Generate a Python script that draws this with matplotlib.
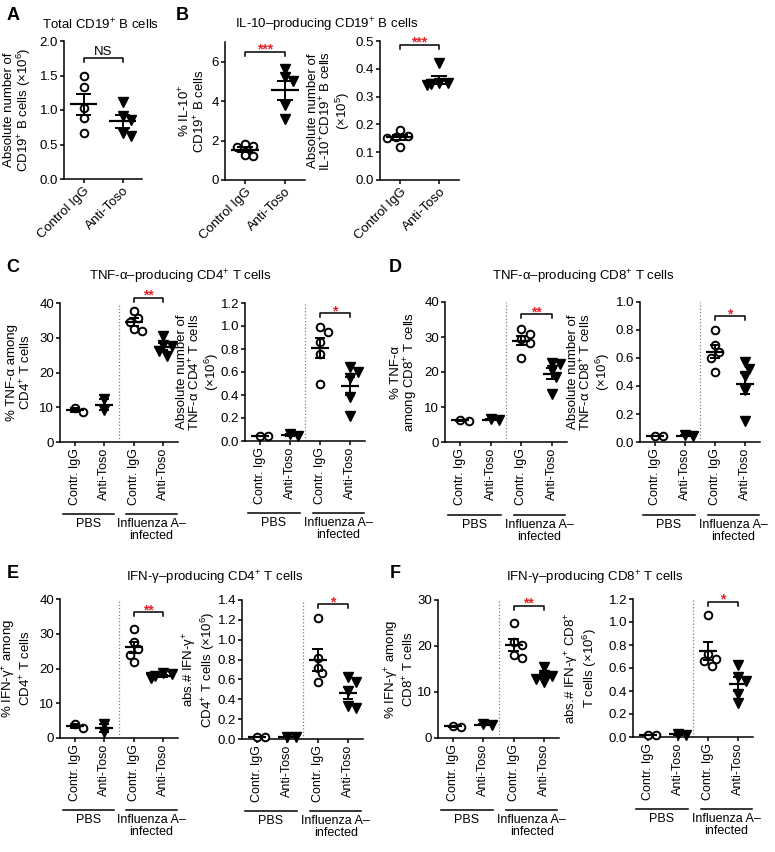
import numpy as np
import matplotlib
matplotlib.use("Agg")
import matplotlib.pyplot as plt
import matplotlib.transforms as mtransforms

plt.rcParams['font.family'] = ['Liberation Sans', 'DejaVu Sans']
plt.rcParams['mathtext.fontset'] = 'custom'
plt.rcParams['mathtext.rm'] = 'Liberation Sans'
plt.rcParams['mathtext.it'] = 'Liberation Sans:italic'
plt.rcParams['mathtext.bf'] = 'Liberation Sans:bold'
plt.rcParams['font.size'] = 9
plt.rcParams['axes.linewidth'] = 1.1

# ---- data ----
groups_ab = ["Control IgG", "Anti-Toso"]
groups_cf = ["Contr. IgG", "Anti-Toso", "Contr. IgG", "Anti-Toso"]
conditions = ["PBS", "Influenza A–\ninfected"]

a_ctrl = [1.49, 1.33, 1.03, 0.88, 0.67]
a_toso = [1.12, 0.92, 0.85, 0.66, 0.62]

b1_ctrl = [1.85, 1.75, 1.65, 1.25, 1.20]
b1_toso = [5.65, 5.20, 5.00, 3.80, 3.10]
b2_ctrl = [0.180, 0.160, 0.155, 0.150, 0.120]
b2_toso = [0.420, 0.350, 0.350, 0.345, 0.340]

# order: PBS ctrl, PBS anti-Toso, flu ctrl, flu anti-Toso
c1_vals = [[9.9, 8.5], [12.3, 9.2], [37.8, 35.8, 34.5, 32.5, 32.0], [30.5, 28.0, 27.5, 26.2, 24.7]]
c2_vals = [[0.04, 0.04], [0.06, 0.04], [0.99, 0.95, 0.86, 0.76, 0.50], [0.64, 0.60, 0.55, 0.38, 0.22]]
d1_vals = [[6.3, 6.0], [6.6, 6.2], [32.3, 31.0, 29.5, 28.2, 24.0], [22.6, 22.2, 20.5, 18.5, 13.8]]
d2_vals = [[0.04, 0.04], [0.05, 0.04], [0.80, 0.69, 0.64, 0.60, 0.50], [0.57, 0.52, 0.47, 0.37, 0.15]]
e1_vals = [[4.0, 2.9], [4.1, 1.6], [31.5, 27.5, 25.5, 24.0, 21.8], [18.7, 18.3, 17.9, 17.5, 17.3]]
e2_vals = [[0.02, 0.02], [0.02, 0.02], [1.22, 0.82, 0.72, 0.66, 0.57], [0.62, 0.57, 0.48, 0.33, 0.31]]
f1_vals = [[2.6, 2.5], [3.0, 2.8], [25.0, 20.8, 20.2, 18.0, 17.3], [15.5, 13.8, 13.5, 12.8, 12.1]]
f2_vals = [[0.02, 0.02], [0.03, 0.02], [1.06, 0.72, 0.68, 0.66, 0.62], [0.63, 0.52, 0.49, 0.37, 0.30]]

W, H = 775, 852
fig = plt.figure(figsize=(W / 100, H / 100), dpi=100)
RED = '#e3262b'


def px_axes(x0, y0, x1, y1):
    return fig.add_axes([x0 / W, 1 - y1 / H, (x1 - x0) / W, (y1 - y0) / H])


def swarm(ax, x, ys, diam=7.5):
    # simple beeswarm offsets in pixel space
    bb = ax.get_position()
    xl, yl = ax.get_xlim(), ax.get_ylim()
    sx = bb.width * W / (xl[1] - xl[0])
    sy = bb.height * H / (yl[1] - yl[0])
    placed = []
    xs = []
    for y in ys:
        py = y * sy
        for k in [0, 1, -1, 2, -2, 3, -3]:
            px = k * diam * 0.55
            if all((px - qx) ** 2 + (py - qy) ** 2 >= (diam * 0.95) ** 2 for qx, qy in placed):
                break
        placed.append((px, py))
        xs.append(x + px / sx)
    return xs


def scatter_group(ax, x, ys, marker, mean_w, cap_w):
    ys = np.asarray(ys, float)
    xs = swarm(ax, x, ys)
    if marker == 'o':
        ax.plot(xs, ys, 'o', ms=5.5, mfc='white', mec='k', mew=1.4, ls='none', zorder=3, clip_on=False)
    else:
        ax.plot(xs, ys, 'v', ms=6.5, mfc='k', mec='k', ls='none', zorder=3, clip_on=False)
    m = ys.mean()
    s = ys.std(ddof=1) / np.sqrt(len(ys))
    ax.hlines(m, x - mean_w / 2, x + mean_w / 2, color='k', lw=1.6, zorder=4)
    ax.vlines(x, m - s, m + s, color='k', lw=1.4, zorder=4)
    ax.hlines([m - s, m + s], x - cap_w / 2, x + cap_w / 2, color='k', lw=1.4, zorder=4)


def bracket(ax, x0, x1, y, h, text, color):
    ax.plot([x0, x0, x1, x1], [y - h, y, y, y - h], color='k', lw=1.1, clip_on=False)
    if color == 'k':
        ax.annotate(text, xy=((x0 + x1) / 2, y), xytext=(0, 2.5), textcoords='offset points',
                    ha='center', va='baseline', fontsize=9.5, annotation_clip=False)
    else:
        ax.annotate(text, xy=((x0 + x1) / 2, y), xytext=(0, -1.5), textcoords='offset points',
                    ha='center', va='baseline', color=color, fontsize=10, fontweight='bold',
                    annotation_clip=False)


def style(ax, ylim, yticks, fmt):
    ax.spines['top'].set_visible(False)
    ax.spines['right'].set_visible(False)
    ax.set_ylim(*ylim)
    ax.set_yticks(yticks)
    ax.set_yticklabels([fmt.format(t) for t in yticks])
    ax.tick_params(direction='out', length=3, width=1.1, pad=1.2, labelsize=9.5)


def set_ylabel(ax, text, gap_px):
    ax.set_ylabel(text, fontsize=9.5, linespacing=1.0)
    w_px = ax.get_position().width * W
    ax.yaxis.set_label_coords(-gap_px / w_px, 0.5)


def two_group(ax, ctrl, toso, ylim, yticks, fmt, ylabel, gap, br_y, br_h, br_text, br_color):
    ax.set_xlim(-0.5, 1.5)
    style(ax, ylim, yticks, fmt)
    ax.set_xticks([0, 1])
    ax.set_xticklabels(groups_ab, rotation=45, ha='right', rotation_mode='anchor', fontsize=9.5)
    scatter_group(ax, 0, ctrl, 'o', 0.68, 0.4)
    scatter_group(ax, 1, toso, 'v', 0.68, 0.4)
    bracket(ax, 0, 1, br_y, br_h, br_text, br_color)
    set_ylabel(ax, ylabel, gap)


def four_group(ax, vals, ylim, yticks, fmt, ylabel, gap, br_y, br_h, br_text, line_y=-0.52):
    ax.set_xlim(-0.5, 3.5)
    style(ax, ylim, yticks, fmt)
    ax.set_xticks([0, 1, 2, 3])
    ax.set_xticklabels(groups_cf, rotation=90, fontsize=9)
    ax.axvline(1.5, color='#808080', ls=':', lw=0.9)
    for i, v in enumerate(vals):
        scatter_group(ax, i, v, 'o' if i % 2 == 0 else 'v', 0.6, 0.35)
    bracket(ax, 2, 3, br_y, br_h, br_text, RED)
    set_ylabel(ax, ylabel, gap)
    trans = mtransforms.blended_transform_factory(ax.transData, ax.transAxes)
    for (x0, x1), lab in zip([(-0.4, 1.32), (1.75, 3.45)], conditions):
        ax.plot([x0, x1], [line_y, line_y], transform=trans, color='k', lw=1.1, clip_on=False)
        ax.text((x0 + x1) / 2, line_y - 0.03, lab, transform=trans, ha='center', va='top',
                multialignment='center', fontsize=9, linespacing=1.0)


# ---- panel A ----
axA = px_axes(64, 41, 142, 179)
two_group(axA, a_ctrl, a_toso, (0, 2.0), [0, 0.5, 1.0, 1.5, 2.0], '{:.1f}',
          "Absolute number of\nCD19$^{+}$ B cells (×10$^{6}$)", 31, 1.75, 0.06, "NS", 'k')

# ---- panel B ----
axB1 = px_axes(225, 42, 305, 180)
two_group(axB1, b1_ctrl, b1_toso, (0, 7), [0, 2, 4, 6], '{:.0f}',
          "% IL-10$^{+}$\nCD19$^{+}$ B cells", 18, 6.5, 0.2, "***", RED)
axB2 = px_axes(380, 41, 459, 180)
two_group(axB2, b2_ctrl, b2_toso, (0, 0.5), [0, 0.1, 0.2, 0.3, 0.4, 0.5], '{:.1f}',
          "Absolute number of\nIL-10$^{+}$CD19$^{+}$ B cells\n(×10$^{5}$)", 28, 0.487, 0.015, "***", RED)

# ---- panel C ----
axC1 = px_axes(60, 303, 178, 442)
four_group(axC1, c1_vals, (0, 40), [0, 10, 20, 30, 40], '{:.0f}',
           "% TNF-α among\nCD4$^{+}$ T cells", 27, 41.5, 1.2, "**")
axC2 = px_axes(245, 303, 365, 441)
four_group(axC2, c2_vals, (0, 1.2), [0, 0.2, 0.4, 0.6, 0.8, 1.0, 1.2], '{:.1f}',
           "Absolute number of\nTNF-α CD4$^{+}$ T cells\n(×10$^{6}$)", 24, 1.11, 0.035, "*")

# ---- panel D ----
axD1 = px_axes(445, 302, 567, 442)
four_group(axD1, d1_vals, (0, 40), [0, 10, 20, 30, 40], '{:.0f}',
           "% TNF-α\namong CD8$^{+}$ T cells", 25, 36.5, 1.2, "**")
axD2 = px_axes(640, 302, 760, 442)
four_group(axD2, d2_vals, (0, 1.0), [0, 0.2, 0.4, 0.6, 0.8, 1.0], '{:.1f}',
           "Absolute number of\nTNF-α CD8$^{+}$ T cells\n(×10$^{6}$)", 28, 0.90, 0.03, "*")

# ---- panel E ----
axE1 = px_axes(60, 599, 178, 738)
four_group(axE1, e1_vals, (0, 40), [0, 10, 20, 30, 40], '{:.0f}',
           "% IFN-γ$^{+}$ among\nCD4$^{+}$ T cells", 27, 36.2, 1.2, "**")
axE2 = px_axes(242, 600, 363, 739)
four_group(axE2, e2_vals, (0, 1.4), [0, 0.2, 0.4, 0.6, 0.8, 1.0, 1.2, 1.4], '{:.1f}',
           "abs.# IFN-γ$^{+}$\nCD4$^{+}$ T cells (×10$^{6}$)", 25, 1.36, 0.04, "*")

# ---- panel F ----
axF1 = px_axes(438, 600, 559, 738)
four_group(axF1, f1_vals, (0, 30), [0, 10, 20, 30], '{:.0f}',
           "% IFN-γ$^{+}$ among\nCD8$^{+}$ T cells", 22, 28.8, 0.9, "**")
axF2 = px_axes(633, 599, 753, 737)
four_group(axF2, f2_vals, (0, 1.2), [0, 0.2, 0.4, 0.6, 0.8, 1.0, 1.2], '{:.1f}',
           "abs.# IFN-γ$^{+}$ CD8$^{+}$\nT cells (×10$^{6}$)", 34, 1.176, 0.035, "*")

# ---- titles and panel letters ----
titles = [
    ("Total CD19$^{+}$ B cells", 101, 25),
    ("IL-10–producing CD19$^{+}$ B cells", 327, 25),
    ("TNF-α–producing CD4$^{+}$ T cells", 180, 277),
    ("TNF-α–producing CD8$^{+}$ T cells", 583, 277),
    ("IFN-γ–producing CD4$^{+}$ T cells", 215, 578),
    ("IFN-γ–producing CD8$^{+}$ T cells", 595, 578),
]
for t, x, y in titles:
    fig.text(x / W, 1 - y / H, t, ha='center', va='center', fontsize=9.5)

for letter, x, y in [("A", 13, 15), ("B", 182, 15), ("C", 13, 267), ("D", 395, 267), ("E", 13, 573), ("F", 395, 573)]:
    fig.text(x / W, 1 - y / H, letter, ha='center', va='center', fontsize=13, fontweight='bold')

fig.savefig("out.png", dpi=100)
